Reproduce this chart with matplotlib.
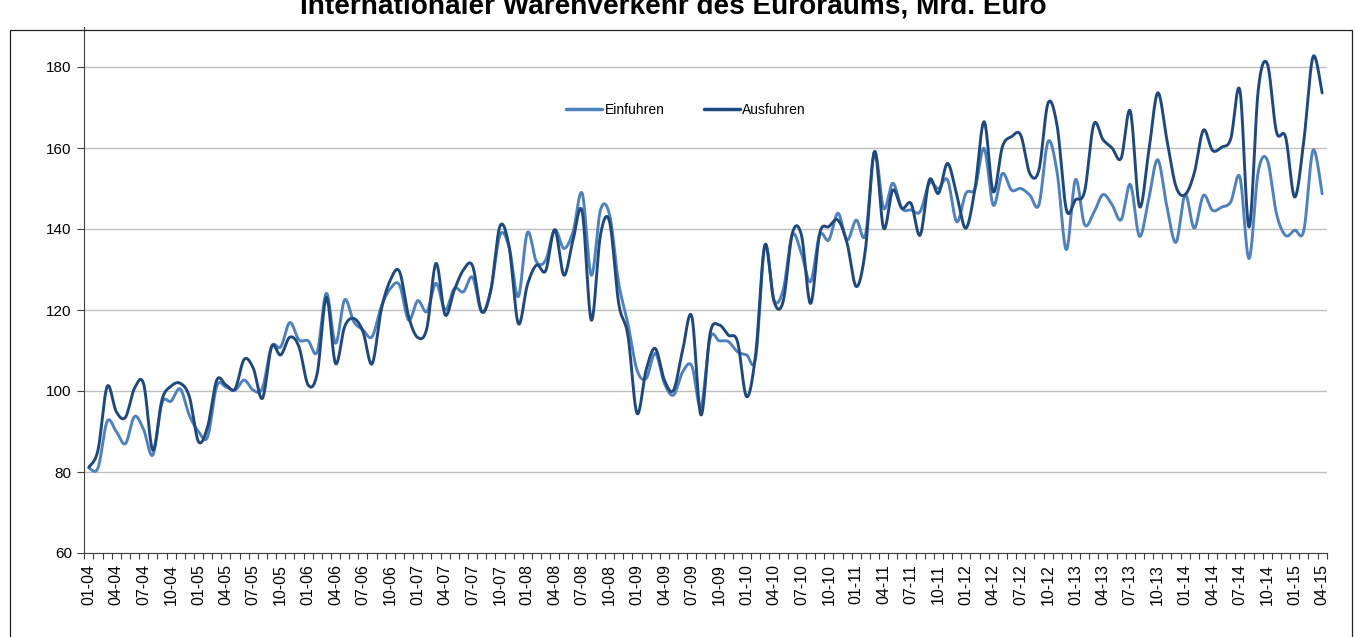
import numpy as np
import matplotlib
matplotlib.use("Agg")
import matplotlib.pyplot as plt
from matplotlib.patches import Rectangle
from matplotlib.ticker import FixedLocator, NullFormatter

plt.rcParams['font.family'] = ['Liberation Sans', 'DejaVu Sans']

title = "Internationaler Warenverkehr des Euroraums, Mrd. Euro"
series_names = ["Einfuhren", "Ausfuhren"]

years = [f"{y:02d}" for y in range(4, 16)]
months = ["01", "04", "07", "10"]
tick_labels = [f"{m}-{y}" for y in years for m in months][:46]

einfuhren = [
    81, 81, 92.5, 90, 87, 93.7, 90.4, 84.2, 97, 97.5, 100.5, 94,
    90, 88.7, 101.2, 101, 100.2, 102.7, 100.2, 100.7, 111, 110.9, 116.9, 112.6,
    112.4, 109.7, 124.1, 111.8, 122.5, 117.1, 115.1, 113.4, 120.8, 125.3, 126.2, 117.5,
    122.3, 119.6, 126.6, 120, 125.3, 124.5, 128.1, 119.6, 124.9, 138.5, 135.6, 123.3,
    139.1, 131.9, 132.3, 139.8, 135.2, 139.3, 148.8, 128.6, 144.7, 143.5, 126.6, 116.7,
    105.2, 103.1, 109.3, 101.9, 99, 104.7, 106.2, 96.1, 113, 112.4, 112.2, 109.7,
    108.9, 108.3, 136, 122.5, 124.9, 138.5, 134, 127, 138.5, 137.3, 143.9, 137.3,
    142.2, 138.5, 159.1, 145.1, 151.3, 145.1, 144.7, 144.3, 151.3, 150, 152.1, 141.8,
    148.8, 150, 159.9, 145.9, 153.7, 149.6, 150, 148.4, 146, 161.6, 153.8, 134.9,
    152.2, 141.1, 144, 148.5, 146, 142.3, 151, 138.2, 147.2, 157.1, 145.6, 136.7,
    148.5, 140.2, 148.3, 144.6, 145.4, 146.7, 152.8, 132.7, 154.1, 157, 143.8, 138.4,
    139.7, 139.7, 159.4, 148.7,
]

ausfuhren = [
    81.2, 85.4, 101.1, 94.9, 93.5, 100.7, 101.7, 85.4, 97.8, 101.2, 101.9, 98.6,
    87.5, 91.2, 102.7, 101.5, 100.5, 107.8, 105.6, 98.2, 110.9, 108.9, 113.3, 110.9,
    101.5, 104.4, 123.1, 106.8, 115.9, 117.9, 114.7, 106.7, 120, 127.4, 129.5, 118.4,
    113.2, 115.5, 131.5, 118.8, 124.9, 129.9, 130.9, 119.6, 124.9, 140.7, 135.6, 116.7,
    126.2, 131.1, 129.7, 139.8, 128.6, 137.3, 144.3, 117.5, 138.5, 141.8, 121.6, 113.8,
    94.5, 105.2, 110.5, 102.7, 100.2, 110.1, 118.4, 94.1, 114.2, 116.3, 113.8, 112.2,
    98.6, 109.3, 136, 122.1, 122.1, 138.9, 138.5, 121.6, 138.9, 140.6, 142.2, 136.5,
    125.8, 134.8, 159.1, 140.2, 149.6, 145.1, 146.3, 138.5, 152.1, 148.8, 156.2, 148.4,
    140.2, 150, 166.5, 149.2, 160.3, 162.8, 163.2, 153.7, 154.6, 171.1, 165.3, 144.8,
    147.2, 149.3, 165.8, 162.1, 160, 157.5, 169.1, 145.6, 158.8, 173.6, 162.1, 150.5,
    148.5, 153.8, 164.4, 159.4, 160.2, 162.3, 174.2, 140.5, 174.2, 180.8, 164, 162.7,
    147.9, 161.9, 182.5, 173.6,
]

colors = ["#4F81BD", "#1F497D"]


def smooth(x, y, n=20):
    """Catmull-Rom style smoothing (like Excel's smoothed line)."""
    x = np.asarray(x, float)
    y = np.asarray(y, float)
    px = np.concatenate([[x[0]], x, [x[-1]]])
    py = np.concatenate([[y[0]], y, [y[-1]]])
    xs, ys = [], []
    t = np.linspace(0, 1, n, endpoint=False)
    for i in range(1, len(px) - 2):
        x0, x1, x2, x3 = px[i - 1], px[i], px[i + 1], px[i + 2]
        y0, y1, y2, y3 = py[i - 1], py[i], py[i + 1], py[i + 2]
        c1x, c1y = x1 + (x2 - x0) / 6, y1 + (y2 - y0) / 6
        c2x, c2y = x2 - (x3 - x1) / 6, y2 - (y3 - y1) / 6
        b0 = (1 - t) ** 3
        b1 = 3 * (1 - t) ** 2 * t
        b2 = 3 * (1 - t) * t ** 2
        b3 = t ** 3
        xs.append(b0 * x1 + b1 * c1x + b2 * c2x + b3 * x2)
        ys.append(b0 * y1 + b1 * c1y + b2 * c2y + b3 * y2)
    xs.append([x[-1]])
    ys.append([y[-1]])
    return np.concatenate(xs), np.concatenate(ys)


W, H = 1357, 637
fig = plt.figure(figsize=(W / 100, H / 100), dpi=100)

left, right = 84.3, 1326.7
top, bottom = 26.5, 553
ax = fig.add_axes([left / W, 1 - bottom / H, (right - left) / W, (bottom - top) / H])

n = len(einfuhren)
xidx = np.arange(n)
for name, vals, c in zip(series_names, [einfuhren, ausfuhren], colors):
    sx, sy = smooth(xidx, vals)
    ax.plot(sx, sy, color=c, lw=2.1, label=name, solid_capstyle='round')

ax.set_xlim(-0.5, n - 0.5)
ax.set_ylim(60, 190)
ax.set_yticks(np.arange(60, 181, 20))
ax.yaxis.grid(True, color="#BFBFBF", lw=1.0)
ax.set_axisbelow(True)
ax.tick_params(axis='y', length=5, width=0.8, color='#404040', labelsize=11, pad=4)

ax.set_xticks(np.arange(0, n, 3))
ax.set_xticklabels(tick_labels, rotation=90, fontsize=11.5)
ax.tick_params(axis='x', which='major', length=0, pad=8)
ax.xaxis.set_minor_locator(FixedLocator(np.arange(-0.5, n, 1.0)))
ax.xaxis.set_minor_formatter(NullFormatter())
ax.tick_params(axis='x', which='minor', length=4, width=0.8, color='#404040')

for s in ['top', 'right']:
    ax.spines[s].set_visible(False)
ax.spines['left'].set_color('#404040')
ax.spines['bottom'].set_color('#404040')
ax.spines['left'].set_linewidth(0.8)
ax.spines['bottom'].set_linewidth(0.8)

leg = ax.legend(loc='center', bbox_to_anchor=(686 / W, 1 - 110 / H),
                bbox_transform=fig.transFigure, ncol=2, frameon=False,
                fontsize=10, handlelength=2.6, columnspacing=2.8, handletextpad=0.2)
for l in leg.get_lines():
    l.set_linewidth(2.5)

# chart border
fig.patches.append(Rectangle((10 / W, -0.02), 1342 / W, 1 - 30 / H + 0.02,
                             transform=fig.transFigure, fill=False,
                             edgecolor='#222222', lw=0.9))

t = fig.text(673 / W, 1 - 13 / H, title, ha='center', va='baseline',
             fontsize=16, fontweight='bold')
fig.canvas.draw()
bb = t.get_window_extent()
t.set_fontsize(16 * 745 / bb.width)

fig.savefig("out.png", dpi=100)
